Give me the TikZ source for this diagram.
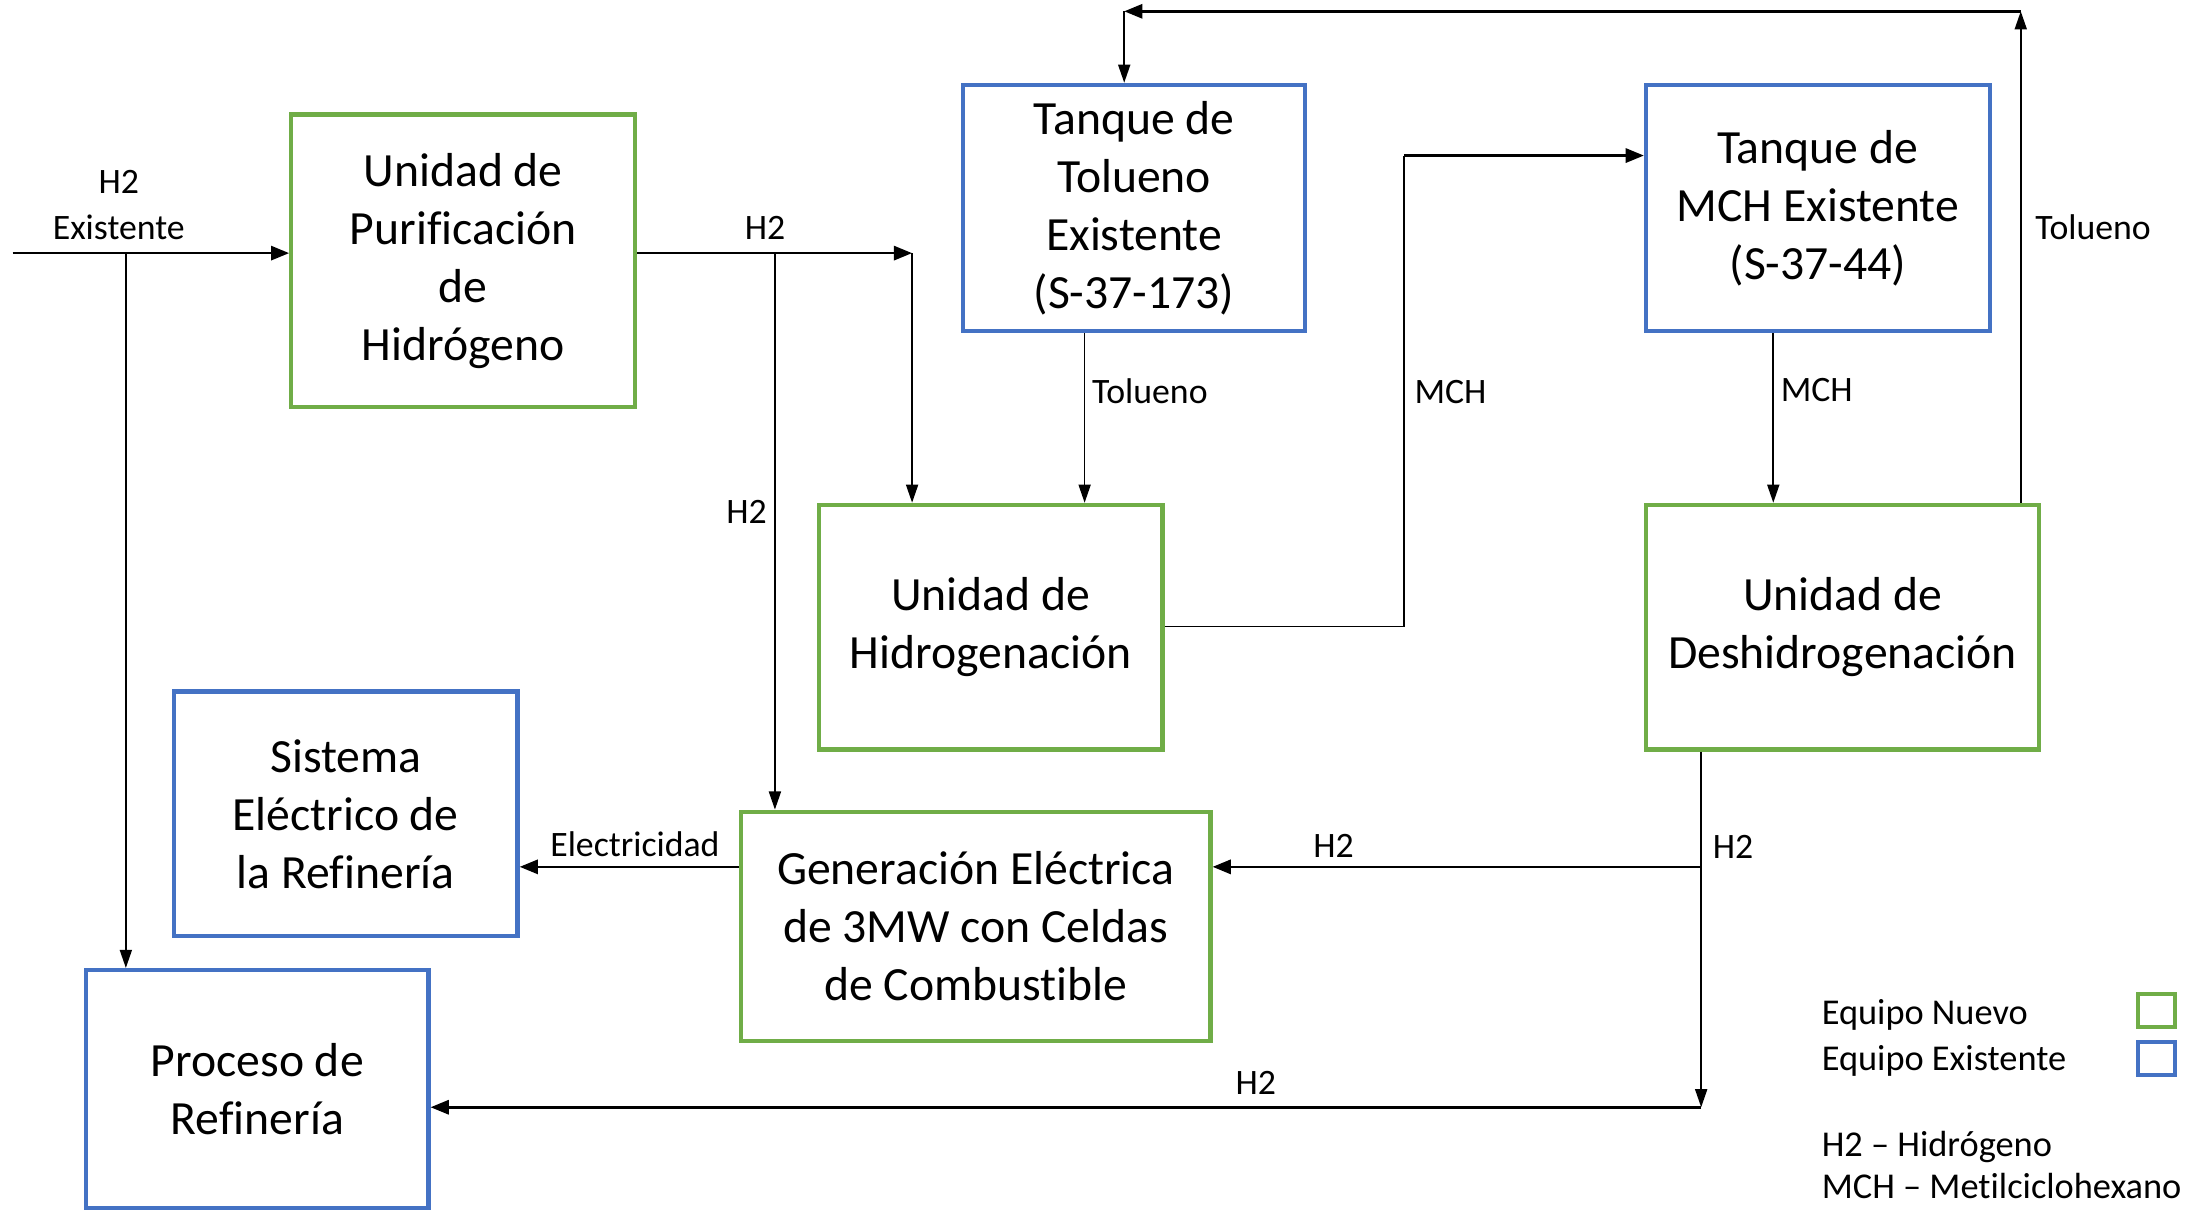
\documentclass[tikz,border=0pt]{standalone}
\usepackage{fontspec}
\setmainfont{Carlito}[Ligatures=NoCommon]
\usetikzlibrary{arrows.meta}
\definecolor{gnew}{HTML}{70AD47}
\definecolor{bexist}{HTML}{4472C4}
\begin{document}
\begin{tikzpicture}[x=0.7pt,y=-0.7pt,
  box/.style={draw, line width=2.1pt, align=center, inner sep=0pt, fill=white,
    font=\fontsize{23.6}{28.7}\selectfont},
  newbox/.style={box, draw=gnew},
  oldbox/.style={box, draw=bexist},
  lab/.style={font=\fontsize{17.7}{22.4}\selectfont, inner sep=0pt, align=center},
  leg/.style={font=\fontsize{18}{22.4}\selectfont, inner sep=0pt, anchor=west},
  thinarr/.style={line width=0.8pt, -{Triangle[length=9pt,width=6pt]}},
  thickarr/.style={line width=1.3pt, -{Triangle[length=9pt,width=7pt]}},
  plain/.style={line width=0.8pt},
]
\useasboundingbox (0,0) rectangle (1560,855);

% boxes
\node[newbox, minimum width=170.1pt, minimum height=144.9pt] (pur) at (327.5,184.5) {Unidad de\\Purificación\\de\\Hidrógeno};
\node[oldbox, minimum width=169.4pt, minimum height=121.8pt] (tol) at (802,147) {Tanque de\\Tolueno\\Existente\\(S-37-173)};
\node[oldbox, minimum width=170.1pt, minimum height=121.8pt] (mch) at (1285.5,147) {Tanque de\\MCH Existente\\(S-37-44)};
\node[newbox, minimum width=170.1pt, minimum height=121.1pt] (hid) at (700.5,443.5) {Unidad de\\Hidrogenación};
\node[newbox, minimum width=194.6pt, minimum height=121.1pt] (des) at (1303,443.5) {Unidad de\\Deshidrogenación};
\node[oldbox, minimum width=170.1pt, minimum height=121.1pt] (sis) at (244.5,575.5) {Sistema\\Eléctrico de\\la Refinería};
\node[newbox, minimum width=232.4pt, minimum height=113.4pt] (gen) at (690,655) {Generación Eléctrica\\de 3MW con Celdas\\de Combustible};
\node[oldbox, minimum width=169.4pt, minimum height=117.6pt] (proc) at (182,770) {Proceso de\\Refinería};

% coordinates
\coordinate (in) at (9,179);
\coordinate (j1) at (89,179);
\coordinate (c1) at (645,179);
\coordinate (j2) at (548,179);
\coordinate (t1) at (767,300);
\coordinate (m1) at (993,443);
\coordinate (m2) at (993,110);
\coordinate (m3) at (1254,300);
\coordinate (r1) at (1429,8);
\coordinate (r2) at (795,8);
\coordinate (d1) at (1203,613);
\coordinate (d2) at (1203,783);

% connectors
\draw[thickarr] (in) -- (pur.west |- in);
\draw[thinarr] (j1) -- (j1 |- proc.north);
\draw[thickarr] (pur.east |- c1) -- (c1);
\draw[thinarr] (c1) -- (c1 |- hid.north);
\draw[thinarr] (j2) -- (j2 |- gen.north);
\draw[thinarr] (t1 |- tol.south) -- (t1 |- hid.north);
\draw[plain] (hid.east |- m1) -- (m1) -- (m2);
\draw[thickarr] (m2) -- (m2 -| mch.west);
\draw[thinarr] (m3 |- mch.south) -- (m3 |- des.north);
\draw[thinarr] (r1 |- des.north) -- (r1);
\draw[thickarr] (r1) -- (r2);
\draw[thinarr] (r2) -- (r2 |- tol.north);
\draw[thinarr] (d1 |- des.south) -- (d2);
\draw[thickarr] (d1) -- (d1 -| gen.east);
\draw[thickarr] (d2) -- (proc.east |- d2);
\draw[thickarr] (gen.west |- d1) -- (sis.east |- d1);

% labels
\node[lab] (lh2in) at (84,145) {H2\\Existente};
\node[lab] (lh2a) at (541,161) {H2};
\node[lab] (lh2b) at (528,362) {H2};
\node[lab, anchor=west] (ltol1) at (772,277) {Tolueno};
\node[lab, anchor=west] (lmch1) at (1000,277) {MCH};
\node[lab, anchor=west] (lmch2) at (1259,276) {MCH};
\node[lab, anchor=west] (ltol2) at (1439,161) {Tolueno};
\node[lab] (lh2c) at (943,598) {H2};
\node[lab, anchor=west] (lh2d) at (1211,599) {H2};
\node[lab] (lh2e) at (888,766) {H2};
\node[lab] (lel) at (449,597) {Electricidad};

% legend
\node[leg] (lg1) at (1288,718) {Equipo Nuevo};
\node[leg] (lg2) at (1288,750) {Equipo Existente};
\node[leg] (lg3) at (1288,811) {H2 – Hidrógeno};
\node[leg] (lg4) at (1288,839) {MCH – Metilciclohexano};
\node[draw=gnew, line width=2.1pt, minimum width=18.2pt, minimum height=16.1pt, inner sep=0pt] (sqn) at (1525,714.5) {};
\node[draw=bexist, line width=2.1pt, minimum width=18.2pt, minimum height=16.1pt, inner sep=0pt] (sqe) at (1525,748.5) {};
\end{tikzpicture}
\end{document}
